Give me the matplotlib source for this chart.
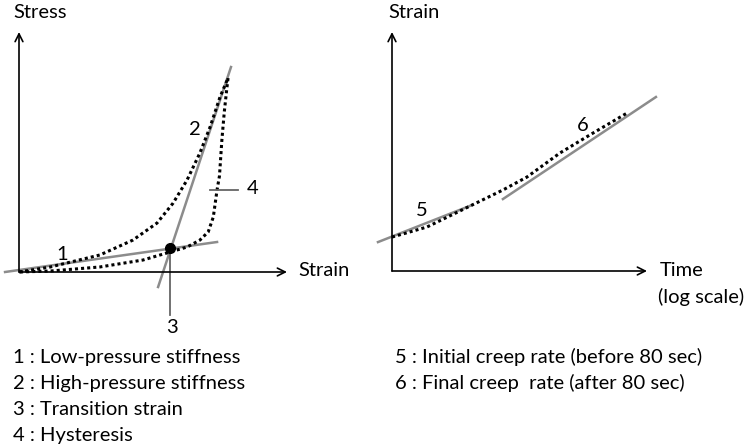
import matplotlib.pyplot as plt

plt.rcParams['font.family'] = ['Lato', 'DejaVu Sans']

# left panel: stress-strain loop (schematic units)
load_x = [0, 0.117, 0.302, 0.425, 0.515, 0.575, 0.627, 0.675, 0.713, 0.750, 0.780]
load_y = [0, 0.021, 0.071, 0.133, 0.204, 0.287, 0.383, 0.496, 0.604, 0.729, 0.808]
unload_x = [0.780, 0.774, 0.766, 0.757, 0.748, 0.739, 0.725, 0.706, 0.675, 0.627, 0.563, 0.463, 0.302, 0.116, 0]
unload_y = [0.808, 0.750, 0.667, 0.550, 0.400, 0.342, 0.229, 0.167, 0.133, 0.104, 0.083, 0.050, 0.021, 0.004, 0]
low_x = [-0.052, 0.739]
low_y = [0, 0.125]
high_x = [0.519, 0.791]
high_y = [-0.0625, 0.854]
trans_x = 0.563
trans_y = 0.098
trans_bottom = -0.179
hyst_x = [0.713, 0.817]
hyst_y = 0.342

# right panel: creep curve (schematic units)
creep_x = [0, 0.137, 0.314, 0.435, 0.529, 0.659, 0.788, 0.922]
creep_y = [0.142, 0.184, 0.276, 0.339, 0.393, 0.494, 0.577, 0.661]
init_x = [-0.055, 0.314]
init_y = [0.121, 0.276]
final_x = [0.435, 1.035]
final_y = [0.301, 0.728]

left_notes = ["1 : Low-pressure stiffness", "2 : High-pressure stiffness",
              "3 : Transition strain", "4 : Hysteresis"]
right_notes = ["5 : Initial creep rate (before 80 sec)",
               "6 : Final creep  rate (after 80 sec)"]

W, H = 750, 448
fig = plt.figure(figsize=(7.5, 4.48), dpi=100)

gray = '#8c8c8c'
dot = (0, (1, 1))
fs = 14.5


def axes_at(x0, y0, x1, y1):
    ax = fig.add_axes([x0 / W, 1 - y1 / H, (x1 - x0) / W, (y1 - y0) / H])
    ax.set_xlim(0, 1)
    ax.set_ylim(0, 1)
    ax.axis('off')
    arrow = dict(arrowstyle='->', color='black', lw=1.2, shrinkA=0, shrinkB=0,
                 mutation_scale=14)
    ax.annotate('', xy=(1, 0), xytext=(0, 0), arrowprops=arrow, annotation_clip=False)
    ax.annotate('', xy=(0, 1), xytext=(0, 0), arrowprops=arrow, annotation_clip=False)
    return ax


ax1 = axes_at(19, 32, 287, 272)
ax1.plot(low_x, low_y, color=gray, lw=1.8, clip_on=False)
ax1.plot(high_x, high_y, color=gray, lw=1.8, clip_on=False)
ax1.plot(load_x, load_y, color='black', lw=2.2, ls=dot, clip_on=False)
ax1.plot(unload_x, unload_y, color='black', lw=2.2, ls=dot, clip_on=False)
ax1.plot([trans_x, trans_x], [trans_y, trans_bottom], color='#666666', lw=1.3, clip_on=False)
ax1.plot(hyst_x, [hyst_y, hyst_y], color='#666666', lw=1.3, clip_on=False)
ax1.plot([trans_x], [trans_y], 'o', color='black', ms=7, clip_on=False, zorder=5)
ax1.text(0.16, 0.075, '1', fontsize=fs, ha='center', va='center')
ax1.text(0.657, 0.592, '2', fontsize=fs, ha='center', va='center')
ax1.text(0.571, -0.233, '3', fontsize=fs, ha='center', va='center')
ax1.text(0.873, 0.35, '4', fontsize=fs, ha='center', va='center')

ax2 = axes_at(392, 32, 647, 271)
ax2.plot(init_x, init_y, color=gray, lw=1.8, clip_on=False)
ax2.plot(final_x, final_y, color=gray, lw=1.8, clip_on=False)
ax2.plot(creep_x, creep_y, color='black', lw=2.2, ls=dot, clip_on=False)
ax2.text(0.118, 0.255, '5', fontsize=fs, ha='center', va='center')
ax2.text(0.749, 0.61, '6', fontsize=fs, ha='center', va='center')


def label(x, y, s):
    fig.text(x / W, 1 - y / H, s, fontsize=fs, ha='left', va='center')


label(13, 12, 'Stress')
label(298, 271, 'Strain')
label(388, 13, 'Strain')
label(660, 270, 'Time')
label(658, 297, '(log scale)')
for i, s in enumerate(left_notes):
    label(13, 357 + i * 26.3, s)
for i, s in enumerate(right_notes):
    label(395, 357 + i * 25.5, s)

fig.savefig('out.png', dpi=100)
